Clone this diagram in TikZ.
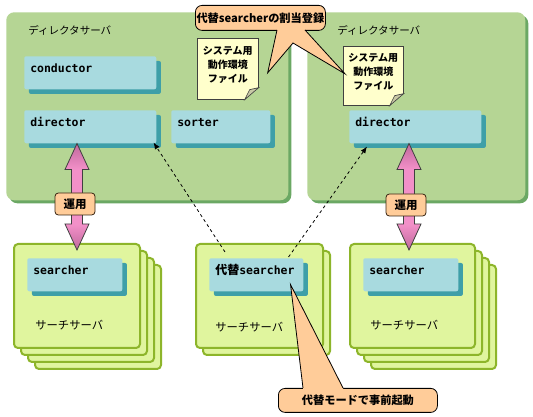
\documentclass[tikz,border=0pt]{standalone}
\usepackage{fontspec}
\usepackage{xcolor}
\usepackage{tikz}
\usetikzlibrary{arrows.meta,shadows,calc}
\newfontfamily\jp{Noto Sans CJK JP}
\newfontfamily\mono{DejaVu Sans Mono}
\definecolor{panelgreen}{HTML}{B5D594}
\definecolor{panelshadow}{HTML}{6BA864}
\definecolor{cyanbox}{HTML}{A8DADF}
\definecolor{cyanshadow}{HTML}{3E9FA8}
\definecolor{srvfill}{HTML}{E0F59E}
\definecolor{srvline}{HTML}{8DB52A}
\definecolor{notefill}{HTML}{FFFFCC}
\definecolor{foldgray}{HTML}{C9C9A6}
\definecolor{calloutfill}{HTML}{FFCC99}
\definecolor{pinkmid}{HTML}{F290C8}
\definecolor{pinkdark}{HTML}{C0689C}
\pgfdeclareverticalshading{pinkbar}{100bp}{color(0bp)=(pinkdark); color(25bp)=(pinkdark);
  color(37bp)=(pinkmid); color(63bp)=(pinkmid); color(75bp)=(pinkdark); color(100bp)=(pinkdark)}

\begin{document}
\begin{tikzpicture}[x=0.75pt, y=-0.75pt,
    every node/.style={inner sep=0pt},
    wh/.style 2 args={minimum width=#1*0.75pt, minimum height=#2*0.75pt},
    panel/.style={anchor=north west, fill=panelgreen, rounded corners=6pt,
      drop shadow={shadow xshift=2.25pt, shadow yshift=-2.25pt, fill=panelshadow, opacity=1}},
    title/.style={anchor=west, font=\jp\fontsize{7.9}{9}\selectfont},
    box/.style={anchor=north west, fill=cyanbox, rounded corners=1.5pt,
      drop shadow={shadow xshift=3.5pt, shadow yshift=-3.5pt, fill=cyanshadow, opacity=1},
      inner xsep=4.5pt, text width=#1, align=left, text height=12pt, text depth=12.75pt,
      font=\mono\bfseries\fontsize{8.6}{10}\selectfont},
    srv/.style={anchor=north west, draw=srvline, line width=1.5pt, fill=srvfill, rounded corners=3pt},
    srvcopy/.style={copy shadow={shadow xshift=#1, shadow yshift=-#1, draw=srvline, fill=srvfill, opacity=1}},
    srvtext/.style={anchor=west, font=\jp\fontsize{8.5}{10}\selectfont},
    note/.style={anchor=north west, draw=black!75, fill=notefill, line width=0.5pt},
    notetext/.style={align=center, font=\jp\bfseries\fontsize{7.5}{10.5}\selectfont},
    callout/.style={anchor=north west, draw=black, line width=0.6pt, fill=calloutfill, rounded corners=5pt,
      font=\jp\bfseries\fontsize{8.4}{10}\selectfont},
    oplabel/.style={draw=black!70!brown, line width=0.6pt, fill=calloutfill, rounded corners=2.5pt,
      wh={40}{22}, font=\jp\bfseries\fontsize{8.6}{10}\selectfont},
    bigarrow/.style={shade, shading=pinkbar, draw=black!75, line width=0.6pt,
      to path={-- ++(-12,26) -- ++(6.5,0) -- ($(\tikztotarget)+(-5.5,-26)$) -- ++(-6.5,0)
        -- (\tikztotarget) -- ++(12,-26) -- ++(-6.5,0) -- ($(\tikztostart)+(5.5,26)$) -- ++(6.5,0) -- cycle}},
    dasharrow/.style={line width=0.6pt, dash pattern=on 2.25pt off 2.25pt, -{Latex[length=5pt,width=4pt]}}]

  \path[use as bounding box, fill=white] (0,0) rectangle (533,417);

  \node[panel, wh={282}{188}] (dsL) at (6,12) {};
  \node[panel, wh={218}{188}] (dsR) at (307,12) {};
  \node[title] (dsLt) at (28,30) {ディレクタサーバ};
  \node[title] (dsRt) at (337,30) {ディレクタサーバ};

  \node[box=90pt] (cond) at (24,56) {conductor};
  \node[box=90pt] (dirL) at (24,110) {director};
  \node[box=65.25pt] (sort) at (171,110) {sorter};
  \node[box=90pt] (dirR) at (349,110) {director};

  \node[note, wh={61}{61}] (noteL) at (197,38) {};
  \node[note, wh={60}{59}] (noteR) at (343,46) {};
  \foreach \n in {noteL,noteR}{
    \fill[panelgreen] ([xshift=-10.5pt]\n.south east) -- ([xshift=1pt,yshift=-1pt]\n.south east)
      -- ([yshift=9pt]\n.south east) -- cycle;
    \filldraw[fill=foldgray, draw=black!75, line width=0.5pt] ([xshift=-10.5pt]\n.south east)
      -- ([xshift=-6.75pt,yshift=7.5pt]\n.south east) -- ([yshift=9pt]\n.south east) -- cycle;
  }
  \node[notetext] (noteLt) at ([yshift=3pt]noteL.center) {システム用\\動作環境\\ファイル};
  \node[notetext] (noteRt) at ([yshift=3pt]noteR.center) {システム用\\動作環境\\ファイル};

  \node[srv, srvcopy=15.75pt, srvcopy=10.5pt, srvcopy=5.25pt, wh={126}{104}] (srvL) at (13,243) {};
  \node[srv, srvcopy=5.25pt, wh={127}{104}] (srvM) at (195,243) {};
  \node[srv, srvcopy=15.75pt, srvcopy=10.5pt, srvcopy=5.25pt, wh={125}{104}] (srvR) at (349,243) {};

  \node[box=62.25pt] (sL) at (27,258) {searcher};
  \node[box=61.5pt] (altS) at (209,258) {{\jp\bfseries\fontsize{9}{10}\selectfont 代替}searcher};
  \node[box=62.25pt] (sR) at (363,258) {searcher};

  \node[srvtext] (srvLt) at (35,325) {サーチサーバ};
  \node[srvtext] (srvMt) at (215,327) {サーチサーバ};
  \node[srvtext] (srvRt) at (370,325) {サーチサーバ};

  \draw[dasharrow] ($(altS.north west)+(16,-6)$) -- ($(dirL.south east)+(-3,-1)$);
  \draw[dasharrow] ($(altS.north east)+(-15,-1)$) -- ($(dirR.south west)+(18,3)$);

  \draw[bigarrow] (srvL.north |- dirL.south) to ([yshift=-5.25pt]srvL.north);
  \draw[bigarrow] ([xshift=-2.6pt]srvR.north |- dirR.south) to ([xshift=-2.6pt,yshift=-5.25pt]srvR.north);
  \node[oplabel] (opL) at (75,204) {運用};
  \node[oplabel] (opR) at (406,205) {運用};

  \node[callout, wh={130}{25}] (callT) at (195,5) {代替searcherの割当登録};
  \fill[calloutfill] (277,26) -- (277,30.5) -- ($(noteL.east)+(9,4)$) -- (293,43)
    -- ($(noteR.west)+(2,-2)$) -- (305,30.5) -- (305,26) -- cycle;
  \draw[line width=0.6pt] (277,30) -- ($(noteL.east)+(9,4)$) -- (293,43)
    -- ($(noteR.west)+(2,-2)$) -- (305,30);

  \node[callout, wh={159}{24}] (callB) at (278,388) {代替モードで事前起動};
  \fill[calloutfill] (303,391) -- (303,387.5) -- ($(altS.south east)+(-13,-7)$)
    -- (343,387.5) -- (343,391) -- cycle;
  \draw[line width=0.6pt] (303,388) -- ($(altS.south east)+(-13,-7)$) -- (343,388);
\end{tikzpicture}
\end{document}
